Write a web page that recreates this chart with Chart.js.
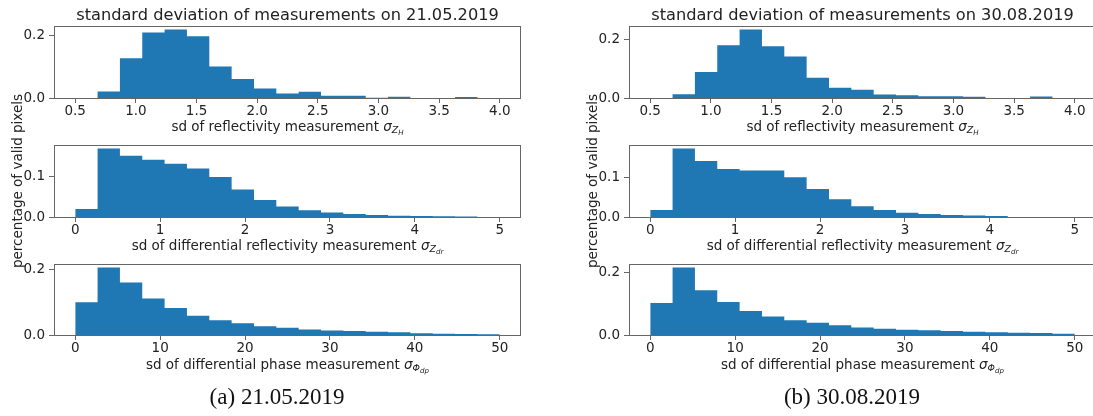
<!DOCTYPE html>
<html>
<head>
<meta charset="utf-8">
<script src="https://cdn.jsdelivr.net/npm/chart.js@4.4.1/dist/chart.umd.min.js"></script>
<style>
  html, body { margin: 0; padding: 0; background: #fff; }
  body { width: 1093px; height: 416px; position: relative; overflow: hidden; font-family: "DejaVu Sans", sans-serif; color: #222; }
  canvas { position: absolute; }
  .txt { position: absolute; text-align: center; white-space: nowrap; line-height: 1; }
  .title { font-size: 16.2px; width: 600px; }
  .xlab { font-size: 13.5px; width: 600px; }
  .ylab { font-size: 13.5px; width: 300px; height: 16px; line-height: 16px; transform: rotate(-90deg); }
  .cap { font-family: "Liberation Serif", serif; font-size: 23px; width: 400px; color: #111; }
  .m { font-style: italic; }
  sub { font-size: 70%; vertical-align: -0.25em; line-height: 0; }
  sub sub { font-size: 75%; }
</style>
</head>
<body>
<script>
// histogram ranges (19 bins each, like the original matplotlib plot)
const binCount = 19;
const zhRange = [0.5, 4.0];
const zdrRange = [0, 5];
const phidpRange = [0, 50];

// tick labels
const zhTicks = [0.5, 1.0, 1.5, 2.0, 2.5, 3.0, 3.5, 4.0];
const zdrTicks = [0, 1, 2, 3, 4, 5];
const phidpTicks = [0, 10, 20, 30, 40, 50];
const zhYTicks = [0, 0.2];
const zdrYTicks = [0, 0.1];
const phidpYTicks = [0, 0.2];

// 21.05.2019
const zhMay = [0, 0.021, 0.127, 0.209, 0.219, 0.197, 0.101, 0.061, 0.030, 0.014, 0.020, 0.007, 0.007, 0.001, 0.004, 0, 0, 0.003, 0];
const zdrMay = [0.020, 0.170, 0.152, 0.142, 0.132, 0.120, 0.099, 0.068, 0.042, 0.026, 0.017, 0.011, 0.0075, 0.005, 0.0033, 0.0025, 0.0017, 0.0012, 0];
const phidpMay = [0.100, 0.206, 0.160, 0.111, 0.082, 0.059, 0.045, 0.036, 0.027, 0.022, 0.017, 0.014, 0.012, 0.010, 0.008, 0.005, 0.004, 0.003, 0.0025];

// 30.08.2019
const zhAug = [0, 0.013, 0.089, 0.181, 0.235, 0.177, 0.142, 0.069, 0.035, 0.028, 0.012, 0.009, 0.006, 0.006, 0.004, 0, 0, 0.005, 0];
const zdrAug = [0.0176, 0.174, 0.142, 0.122, 0.118, 0.118, 0.101, 0.071, 0.045, 0.027, 0.0176, 0.011, 0.0076, 0.005, 0.0035, 0.0025, 0, 0, 0];
const phidpAug = [0.103, 0.217, 0.144, 0.106, 0.077, 0.059, 0.047, 0.039, 0.031, 0.024, 0.020, 0.017, 0.015, 0.0127, 0.0106, 0.0085, 0.0074, 0.0063, 0.0042];

const barColor = "#1f77b4";
const axisColor = "#666";
const tickFont = { family: "DejaVu Sans", size: 13.5 };

// frame around the plot area (all four spines)
const framePlugin = {
  id: "frame",
  afterDatasetsDraw(chart) {
    const a = chart.chartArea;
    const ctx = chart.ctx;
    ctx.save();
    ctx.strokeStyle = axisColor;
    ctx.lineWidth = 1;
    ctx.strokeRect(Math.round(a.left) + 0.5, Math.round(a.top) + 0.5,
      Math.round(a.right - a.left) - 1, Math.round(a.bottom - a.top));
    ctx.restore();
  }
};

function histPoints(range, values) {
  const w = (range[1] - range[0]) / binCount;
  const pts = values.map((v, i) => ({ x: range[0] + i * w, y: v }));
  pts.push({ x: range[1], y: 0 });
  return pts;
}

function addHist(left, top, plotH, range, values, xTicks, yTicks, xDigits) {
  const plotW = 467;
  const yAxisW = 48, xAxisH = 26, padTop = 4, padRight = 3;
  const canvas = document.createElement("canvas");
  const cw = yAxisW + plotW + padRight;
  const ch = padTop + plotH + xAxisH;
  canvas.width = cw;
  canvas.height = ch;
  canvas.style.width = cw + "px";
  canvas.style.height = ch + "px";
  canvas.style.left = (left - yAxisW) + "px";
  canvas.style.top = (top - padTop) + "px";
  document.body.appendChild(canvas);

  const span = range[1] - range[0];
  const yMax = Math.max(...values) * 1.05;

  new Chart(canvas, {
    type: "line",
    data: {
      datasets: [{
        data: histPoints(range, values),
        stepped: "before",
        fill: "origin",
        backgroundColor: barColor,
        borderColor: barColor,
        borderWidth: 0,
        pointRadius: 0,
        pointHoverRadius: 0
      }]
    },
    options: {
      responsive: false,
      animation: false,
      devicePixelRatio: 1,
      events: [],
      layout: { padding: { top: padTop, right: padRight, left: 0, bottom: 0 }, autoPadding: false },
      plugins: { legend: { display: false }, tooltip: { enabled: false } },
      scales: {
        x: {
          type: "linear",
          min: range[0] - 0.05 * span,
          max: range[1] + 0.05 * span,
          afterBuildTicks: s => { s.ticks = xTicks.map(v => ({ value: v })); },
          afterFit: s => { s.height = xAxisH; s.paddingLeft = 0; s.paddingRight = 0; },
          border: { display: false },
          grid: { drawOnChartArea: false, drawTicks: true, tickLength: 5, color: axisColor },
          ticks: {
            autoSkip: false, maxRotation: 0, padding: 0, color: "#222", font: tickFont,
            callback: v => v.toFixed(xDigits)
          }
        },
        y: {
          type: "linear",
          min: 0,
          max: yMax,
          afterBuildTicks: s => { s.ticks = yTicks.map(v => ({ value: v })); },
          afterFit: s => { s.width = yAxisW; s.paddingTop = 0; s.paddingBottom = 0; },
          border: { display: false },
          grid: { drawOnChartArea: false, drawTicks: true, tickLength: 5, color: axisColor },
          ticks: {
            autoSkip: false, padding: 4, color: "#222", font: tickFont,
            callback: v => v.toFixed(1)
          }
        }
      }
    },
    plugins: [framePlugin]
  });
}

function addText(cls, html, cx, top, halfW) {
  const d = document.createElement("div");
  d.className = "txt " + cls;
  d.innerHTML = html;
  d.style.left = (cx - halfW) + "px";
  d.style.top = top + "px";
  document.body.appendChild(d);
}

const sigZh = '<span class="m">σ<sub>Z<sub>H</sub></sub></span>';
const sigZdr = '<span class="m">σ<sub>Z<sub>dr</sub></sub></span>';
const sigPhi = '<span class="m">σ<sub>Φ<sub>dp</sub></sub></span>';

const panels = [
  { left: 54, zh: zhMay, zdr: zdrMay, phidp: phidpMay, date: "21.05.2019", cap: "(a) 21.05.2019", capX: 277, ylabX: 17 },
  { left: 629, zh: zhAug, zdr: zdrAug, phidp: phidpAug, date: "30.08.2019", cap: "(b) 30.08.2019", capX: 852, ylabX: 592 }
];

const rowTops = [26, 145, 264];
const rowHeights = [72, 72, 71];

panels.forEach(p => {
  const cx = p.left + 467 / 2;
  addHist(p.left, rowTops[0], rowHeights[0], zhRange, p.zh, zhTicks, zhYTicks, 1);
  addHist(p.left, rowTops[1], rowHeights[1], zdrRange, p.zdr, zdrTicks, zdrYTicks, 0);
  addHist(p.left, rowTops[2], rowHeights[2], phidpRange, p.phidp, phidpTicks, phidpYTicks, 0);

  addText("title", "standard deviation of measurements on " + p.date, cx, 7, 300);
  addText("xlab", "sd of reflectivity measurement " + sigZh, cx, 120, 300);
  addText("xlab", "sd of differential reflectivity measurement " + sigZdr, cx, 239, 300);
  addText("xlab", "sd of differential phase measurement " + sigPhi, cx, 358, 300);
  addText("ylab", "percentage of valid pixels", p.ylabX, 173, 150);
  addText("cap", p.cap, p.capX, 385, 200);
});
</script>
</body>
</html>
